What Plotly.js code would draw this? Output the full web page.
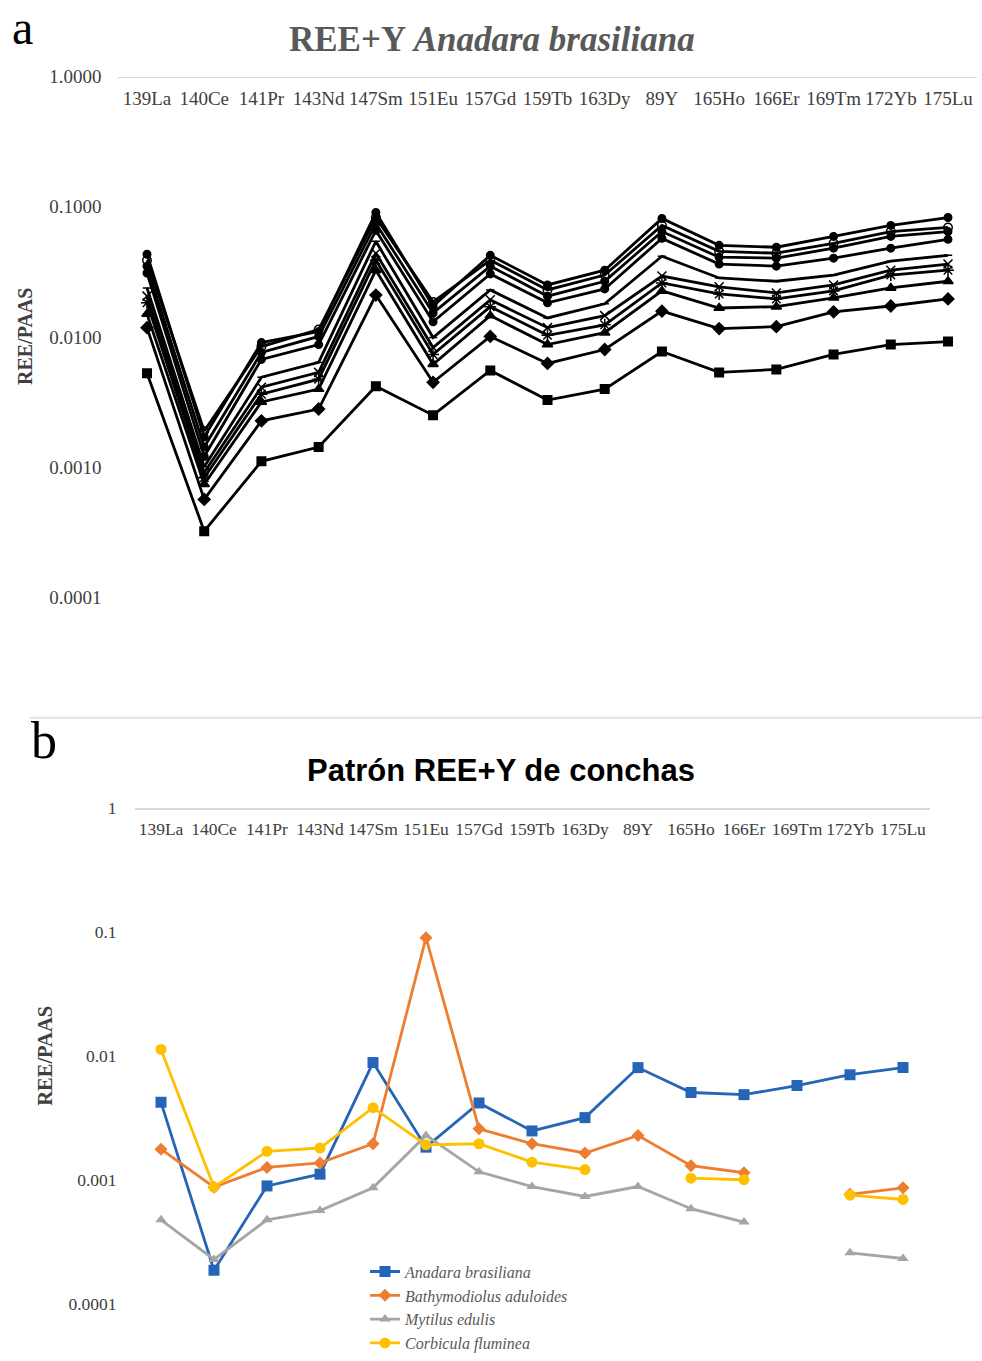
<!DOCTYPE html>
<html>
<head>
<meta charset="utf-8">
<script src="https://cdn.plot.ly/plotly-3.0.1.min.js"></script>
<style>
html,body{margin:0;padding:0;background:#ffffff;width:982px;height:1361px;overflow:hidden;}
#chart{width:982px;height:1361px;display:block;}
</style>
</head>
<body>
<div id="chart"></div>
<script>
// ---------- categories and tick labels ----------
const elements = ['139La','140Ce','141Pr','143Nd','147Sm','151Eu','157Gd','159Tb','163Dy','89Y','165Ho','166Er','169Tm','172Yb','175Lu'];
const yTickVals = [1, 0.1, 0.01, 0.001, 0.0001];
const yTickTextA = ['1.0000','0.1000','0.0100','0.0010','0.0001'];
const yTickTextB = ['1','0.1','0.01','0.001','0.0001'];

// ---------- panel a : Anadara brasiliana samples (REE/PAAS) ----------
const sample1  = [0.0432, 0.00171, 0.00906, 0.0110, 0.0903, 0.0173, 0.0424, 0.0251, 0.0326, 0.0813, 0.0506, 0.0489, 0.0592, 0.0719, 0.0827];
const sample2  = [0.0389, 0.00190, 0.00845, 0.0114, 0.0827, 0.0186, 0.0389, 0.0230, 0.0299, 0.0719, 0.0455, 0.0440, 0.0524, 0.0645, 0.0694];
const sample3  = [0.0350, 0.00143, 0.00761, 0.0101, 0.0745, 0.0153, 0.0350, 0.0206, 0.0268, 0.0645, 0.0410, 0.0403, 0.0481, 0.0592, 0.0645];
const sample4  = [0.0310, 0.00121, 0.00673, 0.00875, 0.0658, 0.0131, 0.0305, 0.0183, 0.0234, 0.0572, 0.0363, 0.0350, 0.0403, 0.0481, 0.0562];
const sample5  = [0.0238, 0.00101, 0.00491, 0.00638, 0.0543, 0.00990, 0.0230, 0.0140, 0.0180, 0.0417, 0.0284, 0.0268, 0.0299, 0.0382, 0.0424];
const sample6  = [0.0206, 0.00091, 0.00412, 0.00535, 0.0440, 0.00830, 0.0193, 0.0118, 0.0146, 0.0294, 0.0243, 0.0218, 0.0251, 0.0326, 0.0363];
const sample7  = [0.0183, 0.00083, 0.00364, 0.00474, 0.0389, 0.00735, 0.0171, 0.0103, 0.0124, 0.0260, 0.0214, 0.0196, 0.0226, 0.0299, 0.0326];
const sample8  = [0.0150, 0.00074, 0.00317, 0.00398, 0.0326, 0.00617, 0.0146, 0.00875, 0.0108, 0.0226, 0.0167, 0.0171, 0.0200, 0.0238, 0.0268];
const sample9  = [0.0118, 0.000566, 0.00227, 0.00280, 0.0210, 0.00449, 0.0101, 0.00627, 0.00802, 0.0158, 0.0116, 0.0120, 0.0156, 0.0173, 0.0196];
const sample10 = [0.00526, 0.000323, 0.00111, 0.00143, 0.00419, 0.00251, 0.00554, 0.00328, 0.00398, 0.00774, 0.00535, 0.00564, 0.00735, 0.00875, 0.00923];

// ---------- panel b : shells of four species (REE/PAAS) ----------
const anadara       = [0.00425, 0.000188, 0.00090, 0.00112, 0.0089, 0.00185, 0.0042, 0.0025, 0.0032, 0.0081, 0.0051, 0.0049, 0.0058, 0.0071, 0.0081];
const bathymodiolus = [0.00178, 0.00088, 0.00127, 0.00138, 0.00197, 0.0904, 0.0026, 0.00197, 0.00166, 0.0023, 0.00131, 0.00115, null, 0.00077, 0.00087];
const mytilus       = [0.00048, 0.00023, 0.00048, 0.00057, 0.00087, 0.0023, 0.00117, 0.00089, 0.00074, 0.00089, 0.00059, 0.00046, null, 0.00026, 0.000234];
const corbicula     = [0.01136, 0.00088, 0.00171, 0.00182, 0.00385, 0.00193, 0.00197, 0.0014, 0.00122, null, 0.00104, 0.00101, null, 0.00076, 0.0007];

const seriesA = [
  {y: sample1,  sym: 'circle',        size: 7.5},
  {y: sample2,  sym: 'circle-open',   size: 8.5},
  {y: sample3,  sym: 'circle',        size: 7.5},
  {y: sample4,  sym: 'circle',        size: 7.5},
  {y: sample5,  sym: 'line-ew-open',  size: 6},
  {y: sample6,  sym: 'x-thin-open',   size: 9},
  {y: sample7,  sym: 'asterisk-open', size: 10},
  {y: sample8,  sym: 'triangle-up',   size: 9},
  {y: sample9,  sym: 'diamond',       size: 9},
  {y: sample10, sym: 'square',        size: 8.5}
];

const traces = [];
seriesA.forEach((s, i) => {
  traces.push({
    type: 'scatter', mode: 'lines+markers',
    x: elements, y: s.y, xaxis: 'x', yaxis: 'y',
    name: 'Muestra ' + (i + 1), showlegend: false,
    line: {color: '#000000', width: 2.8},
    marker: {symbol: s.sym, size: s.size, color: '#000000', line: {color: '#000000', width: 1.5}}
  });
});

const seriesB = [
  {name: 'Anadara brasiliana',      y: anadara,       color: '#2565B8', sym: 'square',      size: 11},
  {name: 'Bathymodiolus aduloides', y: bathymodiolus, color: '#ED7D31', sym: 'diamond',     size: 10},
  {name: 'Mytilus edulis',          y: mytilus,       color: '#A5A5A5', sym: 'triangle-up', size: 10},
  {name: 'Corbicula fluminea',      y: corbicula,     color: '#FFC000', sym: 'circle',      size: 11}
];
seriesB.forEach(s => {
  traces.push({
    type: 'scatter', mode: 'lines+markers',
    x: elements, y: s.y, xaxis: 'x2', yaxis: 'y2',
    name: s.name, connectgaps: false,
    line: {color: s.color, width: 2.8},
    marker: {symbol: s.sym, size: s.size, color: s.color}
  });
});

const W = 982, H = 1361;
const px = v => v / W;
const py = v => 1 - v / H;
const serif = 'Liberation Serif, Times New Roman, serif';

const layout = {
  width: W, height: H,
  margin: {l: 0, r: 0, t: 0, b: 0, pad: 0},
  paper_bgcolor: '#ffffff', plot_bgcolor: 'rgba(0,0,0,0)',
  showlegend: true,
  xaxis: {
    domain: [px(118.4), px(976.6)], anchor: 'free', position: py(77), side: 'bottom',
    type: 'category', range: [-0.5, 14.5],
    ticklabelstandoff: 4,
    showline: true, linecolor: '#d9d9d9', linewidth: 1.5,
    showgrid: false, zeroline: false, ticks: '',
    tickfont: {family: serif, size: 19, color: '#404040'}
  },
  yaxis: {
    domain: [py(601), py(77)], anchor: 'x', type: 'log', range: [-4, 0],
    tickvals: yTickVals, ticktext: yTickTextA,
    showgrid: false, zeroline: false, showline: false, ticks: '',
    ticklabelstandoff: 16,
    tickfont: {family: serif, size: 19, color: '#404040'}
  },
  xaxis2: {
    domain: [px(134.5), px(929.5)], anchor: 'free', position: py(813), side: 'bottom',
    type: 'category', range: [-0.5, 14.5],
    ticklabelstandoff: 4,
    showline: true, linecolor: '#d9d9d9', linewidth: 1.5,
    showgrid: false, zeroline: false, ticks: '',
    tickfont: {family: serif, size: 17.5, color: '#404040'}
  },
  yaxis2: {
    domain: [py(1312), py(813)], anchor: 'x2', type: 'log', range: [-4, 0],
    tickvals: yTickVals, ticktext: yTickTextB,
    showgrid: false, zeroline: false, showline: false, ticks: '',
    ticklabelstandoff: 17,
    tickfont: {family: serif, size: 17.5, color: '#404040'}
  },
  legend: {
    x: px(365), y: py(1262), xanchor: 'left', yanchor: 'top',
    bgcolor: 'rgba(255,255,255,0)', borderwidth: 0,
    tracegroupgap: 0, itemsizing: 'trace',
    font: {family: serif, size: 16, color: '#595959', style: 'italic'}
  },
  shapes: [
    {type: 'line', xref: 'paper', yref: 'paper', x0: px(30), x1: 1, y0: py(722), y1: py(722),
     line: {color: '#e3e3e3', width: 2}}
  ],
  annotations: [
    {text: 'a', xref: 'paper', yref: 'paper', x: px(22), y: 1, xanchor: 'center', yanchor: 'top',
     borderpad: 0, showarrow: false, font: {family: serif, size: 48, color: '#000000'}},
    {text: 'b', xref: 'paper', yref: 'paper', x: px(44), y: py(745), xanchor: 'center', yanchor: 'middle',
     showarrow: false, font: {family: serif, size: 52, color: '#000000'}},
    {text: '<b>REE+Y <i>Anadara brasiliana</i></b>', xref: 'paper', yref: 'paper', x: px(492), y: py(40),
     xanchor: 'center', yanchor: 'middle', showarrow: false,
     font: {family: serif, size: 35, color: '#595959'}},
    {text: '<b>Patrón REE+Y de conchas</b>', xref: 'paper', yref: 'paper', x: px(501), y: py(775),
     xanchor: 'center', yanchor: 'middle', showarrow: false,
     font: {family: 'Liberation Sans, Arial, sans-serif', size: 31, color: '#000000'}},
    {text: '<b>REE/PAAS</b>', xref: 'paper', yref: 'paper', x: px(25), y: py(339), textangle: -90,
     xanchor: 'center', yanchor: 'middle', showarrow: false,
     font: {family: serif, size: 20, color: '#404040'}},
    {text: '<b>REE/PAAS</b>', xref: 'paper', yref: 'paper', x: px(45), y: py(1062), textangle: -90,
     xanchor: 'center', yanchor: 'middle', showarrow: false,
     font: {family: serif, size: 20.5, color: '#404040'}}
  ]
};

Plotly.newPlot('chart', traces, layout, {displayModeBar: false, staticPlot: true});
</script>
</body>
</html>
